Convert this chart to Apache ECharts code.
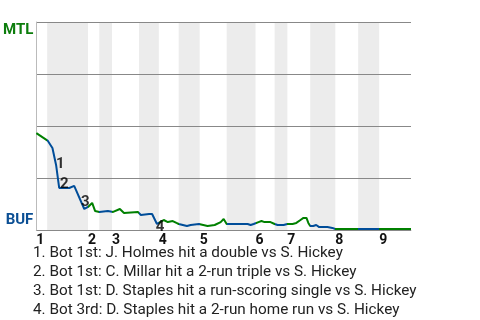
<!DOCTYPE html>
<html><head><meta charset="utf-8">
<script src="https://cdn.jsdelivr.net/npm/echarts@6/dist/echarts.min.js"></script>
<style>html,body{margin:0;padding:0;background:#fff}#c{width:480px;height:320px}</style>
</head><body><div id="c"></div>
<script>
// Inning labels and half-inning boundaries (in event index units)
const innings = ['1','2','3','4','5','6','7','8','9'];
const topStarts = [0, 13.8, 20.2, 32.7, 43.6, 58.5, 67, 79.8, 91.5];
const bottomStarts = [2.9, 16.8, 27.4, 38, 50.8, 63.6, 73.1, 85.9];
const gameEnd = 100;

// Win probability for MTL (%) by event index
const eventIdx = [0,3,4.3,5.3,6.1,8.8,10.1,10.6,12.8,13.8,14.9,15.7,16.8,19.1,20.5,22.3,23.4,27.1,27.9,30.1,30.9,32.2,32.7,34,35.1,36.4,37.4,38,40.2,41.2,43.4,43.9,45.7,47.6,49.2,50,50.8,54.5,56.4,57.2,58,59.3,60.1,60.9,62.5,63.6,64.4,66,67,68.4,69.4,70.5,71.3,72.1,72.6,73.1,73.9,74.7,75.5,77.7,79,79.8,85,91.5,100];
const mtlWin = [46.6,43,39.4,31,20.2,20.2,21.2,19.2,10.1,11.1,13,9.1,8.7,9.1,8.7,10.1,8.2,8.7,7.2,7.7,7.7,2.9,2.9,4.8,3.8,4.3,3.4,2.9,1.9,2.4,2.9,2.9,1.9,2.4,3.8,5.3,2.9,2.9,2.9,2.4,2.9,3.8,4.3,3.8,3.8,2.9,2.4,2.4,2.9,2.9,3.4,4.8,5.8,5.8,3.4,1.9,1.9,2.4,1.4,1.4,1,0.5,0.5,0.5,0.5];

// Key events
const keyEventIdx = [5.3, 6.1, 12.8, 32.2];
const keyEventWin = [31, 20.2, 10.1, 2.9];
const keyEventText = [
  'Bot 1st: J. Holmes hit a double vs S. Hickey',
  'Bot 1st: C. Millar hit a 2-run triple vs S. Hickey',
  'Bot 1st: D. Staples hit a run-scoring single vs S. Hickey',
  'Bot 3rd: D. Staples hit a 2-run home run vs S. Hickey'
];
const keyLabelOffsets = [[4,-1],[5,-4],[1,-7],[3,3]];

const GREEN = '#008000', BLUE = '#004d99';

const bands = bottomStarts.map((b, i) => [{xAxis: b}, {xAxis: topStarts[i + 1]}]);
const pieces = [];
topStarts.forEach((t, i) => {
  const tEnd = i < bottomStarts.length ? bottomStarts[i] : gameEnd + 1;
  pieces.push({gte: t, lt: tEnd, color: GREEN});
  if (i < bottomStarts.length) pieces.push({gte: bottomStarts[i], lt: topStarts[i + 1], color: BLUE});
});

const chart = echarts.init(document.getElementById('c'), null, {renderer: 'canvas'});
chart.setOption({
  animation: false,
  textStyle: {fontFamily: 'Roboto'},
  grid: {left: 35, right: 69, top: 22, bottom: 90},
  title: {
    text: keyEventText.map((t, i) => (i + 1) + '. ' + t).join('\n'),
    left: 33, top: 244, padding: 0,
    textStyle: {fontFamily: 'Roboto', fontSize: 15.3, fontWeight: 'normal', color: '#222', lineHeight: 19}
  },
  xAxis: {
    type: 'value', min: 0, max: gameEnd,
    axisLine: {lineStyle: {color: '#bbb'}},
    axisTick: {show: false},
    splitLine: {show: false},
    axisLabel: {
      customValues: topStarts,
      align: 'left', margin: 3,
      fontFamily: 'Roboto', fontSize: 14, fontWeight: 'bold', color: '#111',
      formatter: v => innings[topStarts.indexOf(v)] || ''
    }
  },
  yAxis: {
    type: 'value', min: 0, max: 100, interval: 25, z: 1.5,
    axisLine: {show: true, lineStyle: {color: '#bbb'}},
    axisTick: {show: false},
    splitLine: {lineStyle: {color: '#888', width: 1}},
    axisLabel: {
      customValues: [0, 100], margin: 3,
      formatter: v => v === 100 ? '{m|MTL}' : '{b|BUF}',
      rich: {
        m: {fontFamily: 'Roboto', fontSize: 15, fontWeight: 'bold', color: '#0c7d0c', padding: [16, 0, 0, 0]},
        b: {fontFamily: 'Roboto', fontSize: 15, fontWeight: 'bold', color: '#0b4f94', padding: [0, 0, 19, 0]}
      }
    }
  },
  visualMap: {show: false, type: 'piecewise', dimension: 0, seriesIndex: 0, pieces: pieces},
  series: [
    {
      type: 'line', data: eventIdx.map((x, i) => [x, mtlWin[i]]),
      showSymbol: false, symbol: 'none', lineStyle: {width: 2}, z: 2,
      markArea: {silent: true, z: 1, itemStyle: {color: '#ececec'}, data: bands}
    },
    {
      type: 'scatter', symbolSize: 0, z: 6,
      data: keyEventIdx.map((x, i) => ({
        value: [x, keyEventWin[i]],
        label: {offset: keyLabelOffsets[i]}
      })),
      label: {
        show: true, position: 'inside',
        formatter: p => String(p.dataIndex + 1),
        fontFamily: 'Roboto', fontSize: 15, fontWeight: 'bold', color: '#000'
      }
    }
  ]
});
</script></body></html>
